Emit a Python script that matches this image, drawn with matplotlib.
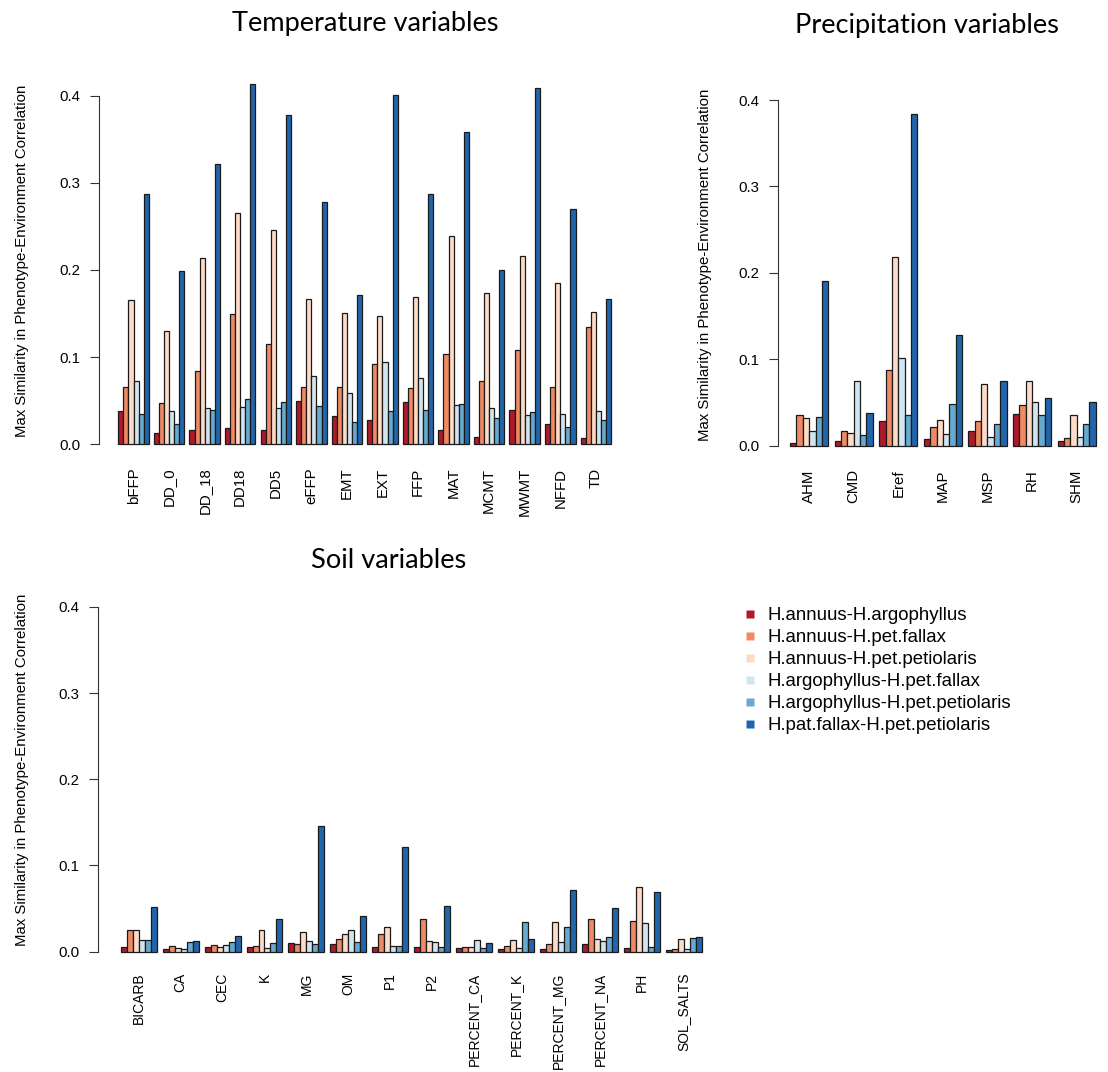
import numpy as np
import matplotlib
matplotlib.use("Agg")
import matplotlib.pyplot as plt
from matplotlib.lines import Line2D

plt.rcParams['font.family'] = ['Liberation Sans', 'DejaVu Sans']

pairs = ["H.annuus-H.argophyllus", "H.annuus-H.pet.fallax", "H.annuus-H.pet.petiolaris",
         "H.argophyllus-H.pet.fallax", "H.argophyllus-H.pet.petiolaris", "H.pat.fallax-H.pet.petiolaris"]
colors = ["#B2182B", "#EF8A62", "#FDDBC7", "#D1E5F0", "#67A9CF", "#2166AC"]

# one row per variable, columns follow `pairs`
temp_vars = ["bFFP", "DD_0", "DD_18", "DD18", "DD5", "eFFP", "EMT", "EXT", "FFP", "MAT",
             "MCMT", "MWMT", "NFFD", "TD"]
temp_vals = [
    [0.038, 0.066, 0.165, 0.073, 0.034, 0.287],
    [0.013, 0.047, 0.130, 0.038, 0.023, 0.199],
    [0.016, 0.084, 0.214, 0.041, 0.039, 0.322],
    [0.018, 0.150, 0.266, 0.043, 0.052, 0.414],
    [0.016, 0.115, 0.246, 0.041, 0.048, 0.378],
    [0.050, 0.066, 0.167, 0.078, 0.044, 0.278],
    [0.032, 0.066, 0.151, 0.059, 0.025, 0.171],
    [0.028, 0.092, 0.147, 0.094, 0.038, 0.401],
    [0.048, 0.064, 0.169, 0.076, 0.039, 0.287],
    [0.016, 0.104, 0.239, 0.045, 0.046, 0.358],
    [0.008, 0.073, 0.173, 0.042, 0.030, 0.200],
    [0.039, 0.108, 0.216, 0.033, 0.037, 0.409],
    [0.023, 0.066, 0.185, 0.035, 0.020, 0.270],
    [0.007, 0.134, 0.152, 0.038, 0.028, 0.167],
]

prec_vars = ["AHM", "CMD", "Eref", "MAP", "MSP", "RH", "SHM"]
prec_vals = [
    [0.003, 0.035, 0.032, 0.017, 0.033, 0.191],
    [0.005, 0.017, 0.015, 0.075, 0.012, 0.038],
    [0.029, 0.088, 0.218, 0.101, 0.036, 0.384],
    [0.008, 0.022, 0.030, 0.013, 0.048, 0.128],
    [0.017, 0.029, 0.071, 0.010, 0.025, 0.075],
    [0.037, 0.047, 0.075, 0.051, 0.036, 0.055],
    [0.005, 0.009, 0.036, 0.010, 0.025, 0.050],
]

soil_vars = ["BICARB", "CA", "CEC", "K", "MG", "OM", "P1", "P2", "PERCENT_CA", "PERCENT_K",
             "PERCENT_MG", "PERCENT_NA", "PH", "SOL_SALTS"]
soil_vals = [
    [0.005, 0.025, 0.025, 0.014, 0.014, 0.052],
    [0.003, 0.007, 0.004, 0.003, 0.011, 0.012],
    [0.005, 0.008, 0.005, 0.008, 0.011, 0.018],
    [0.005, 0.007, 0.025, 0.004, 0.010, 0.038],
    [0.010, 0.009, 0.023, 0.012, 0.009, 0.146],
    [0.009, 0.015, 0.020, 0.025, 0.011, 0.041],
    [0.005, 0.021, 0.029, 0.007, 0.007, 0.121],
    [0.006, 0.038, 0.012, 0.011, 0.005, 0.053],
    [0.004, 0.005, 0.005, 0.014, 0.004, 0.010],
    [0.003, 0.007, 0.013, 0.004, 0.034, 0.015],
    [0.003, 0.009, 0.034, 0.011, 0.029, 0.072],
    [0.009, 0.038, 0.015, 0.012, 0.017, 0.051],
    [0.004, 0.036, 0.075, 0.033, 0.006, 0.069],
    [0.002, 0.003, 0.015, 0.003, 0.016, 0.017],
]

W, H = 1108, 1072
fig = plt.figure(figsize=(W / 100, H / 100), dpi=100)

YLAB = "Max Similarity in Phenotype-Environment Correlation"


def px_axes(x0, y0, x1, y1):
    # pixel box (top-left origin) -> figure fraction
    return fig.add_axes([x0 / W, 1 - y1 / H, (x1 - x0) / W, (y1 - y0) / H])


def barpanel(ax, names, vals, xfs=10.8, xpad=7):
    vals = np.array(vals)
    ng = len(names)
    # R barplot(beside=TRUE): space 1 before each group, bars of width 1
    for j in range(6):
        xs = 1 + 7 * np.arange(ng) + j
        ax.bar(xs, vals[:, j], width=1, align='edge', color=colors[j],
               edgecolor='#1a1a1a', linewidth=0.9)
    span = 7 * ng - 1
    ax.set_xlim(1 - 0.04 * span, 1 + span + 0.04 * span)
    ax.set_ylim(-0.016, 0.416)
    ax.set_xticks(1 + 7 * np.arange(ng) + 3)
    ax.set_xticklabels(names, rotation=90, fontsize=xfs)
    ax.set_yticks([0, 0.1, 0.2, 0.3, 0.4])
    ax.set_yticklabels(["0.0", "0.1", "0.2", "0.3", "0.4"], fontsize=10.8)
    ax.tick_params(axis='x', length=0, pad=xpad)
    ax.tick_params(axis='y', length=6.5, width=0.8, pad=6.5, color='#333333')
    for s in ['top', 'right', 'bottom']:
        ax.spines[s].set_visible(False)
    ax.spines['left'].set_bounds(0, 0.4)
    ax.spines['left'].set_linewidth(0.8)
    ax.spines['left'].set_color('#333333')
    ax.patch.set_visible(False)


ax1 = px_axes(98.6, 82, 630.8, 458)
barpanel(ax1, temp_vars, temp_vals)
ax2 = px_axes(777.8, 86.2, 1108, 459.5)
barpanel(ax2, prec_vars, prec_vals)
ax3 = px_axes(97.5, 593, 725, 965.5)
barpanel(ax3, soil_vars, soil_vals, xfs=10.0, xpad=5)

# y labels, placed in figure pixels (R draws them a bit above the panel centre)
yfont = dict(fontsize=10.8, rotation=90, ha='center', va='center')
fig.text(22 / W, 1 - 261 / H, YLAB, **yfont)
fig.text(705 / W, 1 - 265 / H, YLAB, **yfont)
fig.text(22 / W, 1 - 770 / H, YLAB, **yfont)

tfont = dict(family=['Lato', 'DejaVu Sans'], fontsize=19.6, ha='center', va='center')
fig.text(365 / W, 1 - 24 / H, "Temperature variables", **tfont)
fig.text(927 / W, 1 - 26 / H, "Precipitation variables", **tfont)
fig.text(389 / W, 1 - 561 / H, "Soil variables", **tfont)

handles = [Line2D([], [], marker='s', linestyle='none', markersize=5.5,
                  markerfacecolor=c, markeredgecolor='none') for c in colors]
fig.legend(handles, pairs, loc='upper left', bbox_to_anchor=(743 / W, 1 - 607 / H),
           frameon=False, fontsize=13.4, handlelength=0.7, handletextpad=0.6,
           labelspacing=0.27, borderpad=0, borderaxespad=0)

fig.savefig("out.png", dpi=100)
